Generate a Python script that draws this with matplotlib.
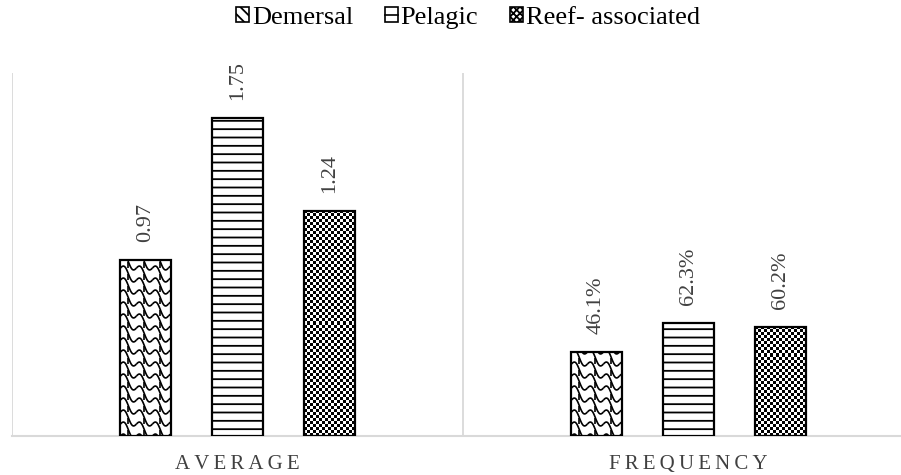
import numpy as np
import matplotlib
matplotlib.use("Agg")
import matplotlib.pyplot as plt
from matplotlib.patches import Patch, Rectangle
from matplotlib.lines import Line2D
from matplotlib.legend_handler import HandlerBase
from matplotlib.collections import LineCollection
from matplotlib.transforms import IdentityTransform

# ---- data ----
categories = ["AVERAGE", "FREQUENCY"]
series = ["Demersal", "Pelagic", "Reef- associated"]
demersal = [0.97, 0.461]
pelagic = [1.75, 0.623]
reef = [1.24, 0.602]
label_formats = ["{:.2f}", "{:.1%}"]

plt.rcParams["font.family"] = ["Liberation Serif", "DejaVu Serif"]
plt.rcParams["hatch.linewidth"] = 1.3

W, H, DPI = 901, 475, 100
fig = plt.figure(figsize=(W / DPI, H / DPI), dpi=DPI)
ax = fig.add_axes([12 / W, 39 / H, 902 / W, 363 / H])
ax.set_xlim(-0.5, 1.5)
ax.set_ylim(0, 2.0)

grid_col = "#d9d9d9"
for s in ("top", "right", "left"):
    ax.spines[s].set_visible(False)
ax.spines["bottom"].set_color(grid_col)
ax.spines["bottom"].set_linewidth(1.5)
for xd in (-0.5, 0.5, 1.5):
    ax.axvline(xd, color=grid_col, lw=1.3, zorder=1)

ax.set_yticks([])
xpos = np.arange(len(categories))
ax.set_xticks(xpos)
ax.set_xticklabels(["\u2009".join(c) for c in categories], fontsize=15, color="#404040")
ax.tick_params(axis="x", length=0, pad=14)

bw = 0.111
offs = [-0.204, 0.0, 0.204]
all_vals = [demersal, pelagic, reef]

bars_d = ax.bar(xpos + offs[0], demersal, bw, facecolor="white", edgecolor="black", lw=1.6, zorder=3)
bars_p = ax.bar(xpos + offs[1], pelagic, bw, facecolor="white", edgecolor="black", lw=1.6,
                hatch="--", zorder=3)
bars_r = ax.bar(xpos + offs[2], reef, bw, facecolor="none", edgecolor="black", lw=1.6, zorder=3)

to_px = ax.transData

# shingle pattern inside the demersal bars
for b in bars_d:
    (x0, y0), (x1, y1) = to_px.transform([(b.get_x(), 0), (b.get_x() + b.get_width(), b.get_height())])
    pw, ph = 16.0, 12.0
    t = np.linspace(0, 1, 20)
    segs = []
    ncol = int((x1 - x0) / pw) + 2
    for k in range(-ncol - 2, int((y1 - y0) / ph) + ncol + 3):
        ys = y0 + k * ph
        for c in range(ncol):
            xs = x0 + c * pw
            yy = ys - c * ph
            px = xs + pw * t
            py = yy + ph - ph * t + 0.38 * ph * np.sin(2 * np.pi * t)
            segs.append(np.column_stack([px, py]))
            # small connector closing each scale
            segs.append(np.array([[xs + pw * 0.5, yy + ph * 0.5], [xs + pw * 0.5, yy]]))
    lc = LineCollection(segs, colors="black", linewidths=1.2, transform=IdentityTransform(), zorder=3.5)
    ax.add_collection(lc, autolim=False)
    lc.set_clip_path(b)

# checker pattern inside the reef bars
for b in bars_r:
    (x0, y0), (x1, y1) = to_px.transform([(b.get_x(), 0), (b.get_x() + b.get_width(), b.get_height())])
    nx = max(1, int(round((x1 - x0) / 3.0)))
    ny = max(1, int(round((y1 - y0) / 3.0)))
    checker = (np.add.outer(np.arange(ny), np.arange(nx)) % 2).astype(float)
    im = ax.imshow(checker, cmap="gray", vmin=0, vmax=1, interpolation="nearest", aspect="auto",
                   extent=(b.get_x(), b.get_x() + b.get_width(), 0, b.get_height()), zorder=2.5)
    im.set_clip_path(b)

ax.set_xlim(-0.5, 1.5)
ax.set_ylim(0, 2.0)

# value labels
for bars, vals in zip([bars_d, bars_p, bars_r], all_vals):
    for i, (b, v) in enumerate(zip(bars, vals)):
        ax.annotate(label_formats[i].format(v), (b.get_x() + b.get_width() / 2, v),
                    xytext=(0, 13), textcoords="offset points", rotation=90,
                    ha="center", va="bottom", fontsize=16, color="#404040")


class BoxLineHandler(HandlerBase):
    """Legend key: an outlined box with one horizontal rule through the middle."""

    def create_artists(self, legend, orig_handle, xdescent, ydescent, width, height, fontsize, trans):
        rect = Rectangle((-xdescent, -ydescent), width, height, facecolor="white",
                         edgecolor="black", lw=1.2, transform=trans)
        mid = -ydescent + height / 2
        line = Line2D([-xdescent, -xdescent + width], [mid, mid], color="black", lw=1.2,
                      transform=trans)
        return [rect, line]


pelagic_key = Patch(facecolor="white", edgecolor="black", lw=1.2)
handles = [
    Patch(facecolor="white", edgecolor="black", hatch="\\\\\\", lw=1.2),
    pelagic_key,
    Patch(facecolor="white", edgecolor="black", hatch="xxxxx", lw=1.2),
]
fig.legend(handles, series, loc="center", bbox_to_anchor=(468 / W, 1 - 18 / H), ncol=3,
           frameon=False, fontsize=19, handlelength=0.5, handleheight=0.5,
           handletextpad=0.1, columnspacing=1.2,
           handler_map={pelagic_key: BoxLineHandler()})

fig.savefig("out.png", dpi=DPI)
